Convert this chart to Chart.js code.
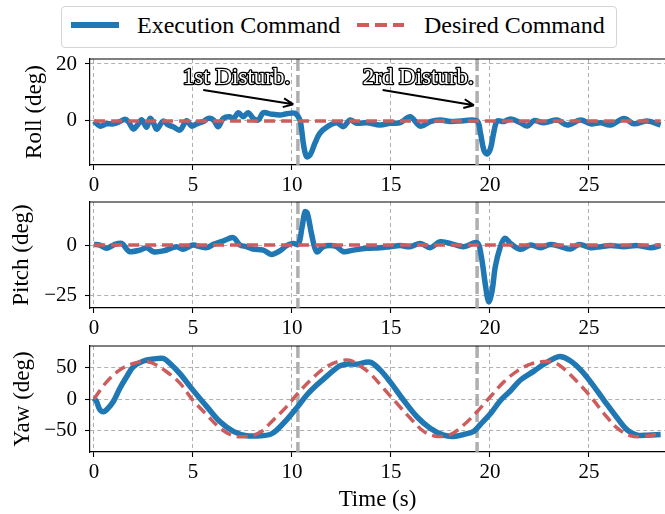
<!DOCTYPE html>
<html lang="en">
<head>
<meta charset="UTF-8">
<title>Disturbance response</title>
<script src="https://cdn.jsdelivr.net/npm/chart.js@4.4.0/dist/chart.umd.min.js"></script>
<style>
  body { margin: 0; background: #fff; width: 665px; height: 514px; overflow: hidden; position: relative; font-family: 'Liberation Serif', 'Times New Roman', serif; }
  canvas { position: absolute; left: 0; }
  #legend { position: absolute; left: 61px; top: 6px; width: 554px; height: 40px; border: 1px solid #d5d5d5; border-radius: 4px; background: #fff; }
  .item { position: absolute; top: -2px; height: 40px; line-height: 40px; font-size: 24px; color: #000; white-space: nowrap; }
  .swatch { position: absolute; }
</style>
</head>
<body>

<div id="legend">
  <div class="swatch" style="left:9px; top:15px; width:48px; height:5.5px; background:#1f77b4;"></div>
  <div class="item" style="left:75px;">Execution Command</div>
  <div class="swatch" style="left:295px; top:16px; width:47px; height:3.5px; background:repeating-linear-gradient(to right, #cd5c5c 0 12px, transparent 12px 18px);"></div>
  <div class="item" style="left:362px;">Desired Command</div>
</div>

<canvas id="rollChart" width="665" height="150" style="top:50px"></canvas>
<canvas id="pitchChart" width="665" height="145" style="top:195px"></canvas>
<canvas id="yawChart" width="665" height="176" style="top:338px"></canvas>

<script>
// ---- data ----
const xTicks = [0, 5, 10, 15, 20, 25];
const disturbTimes = [10.3, 19.35];

const rollTicks = [0, 20];
const pitchTicks = [-25, 0];
const yawTicks = [-50, 0, 50];

const rollT = [0, 0.3, 0.64, 0.98, 1.31, 1.57, 1.73, 1.99, 2.24, 2.41, 2.66, 2.83, 3.0, 3.17, 3.5, 3.75, 4.0, 4.34, 4.68, 4.93, 5.19, 5.52, 5.77, 6.03, 6.28, 6.53, 6.87, 7.03, 7.29, 7.54, 7.79, 8.05, 8.3, 8.55, 8.89, 9.39, 9.73, 10.15, 10.4, 10.49, 10.6, 10.74, 10.91, 11.16, 11.41, 11.83, 12.26, 12.6, 12.93, 13.27, 13.78, 14.45, 14.96, 15.47, 15.97, 16.48, 16.98, 17.49, 18.0, 18.67, 19.35, 19.52, 19.69, 19.86, 20.03, 20.2, 20.37, 20.7, 21.04, 21.54, 21.88, 22.22, 22.72, 23.4, 23.9, 24.58, 25.08, 25.59, 26.09, 26.77, 27.27, 27.94, 28.62];
const rollExec = [0, -1.8, -1, -1, -0.2, 0.6, -0.2, -2.8, -1, 0.4, -2.2, 0.9, -0.6, -2.9, 0, -1.4, -2, -3.2, 0.1, -1.8, -1, -0.2, 0.9, 0.4, -2, 0.9, 1.5, 0.6, 2.9, 1.5, 2.9, 0.9, 0.35, 2.9, 2.5, 2.1, 2.5, 2.7, 0.35, -3.2, -9, -12.5, -12, -7.8, -4.3, -1.8, -0.6, -2, 0.35, -0.8, -0.6, -1.4, -0.8, -0.6, 1.5, -1.8, -0.2, 0.35, -0.2, 0.1, 0, -4.3, -10.2, -11.6, -9.6, -3.7, 0, -0.2, 0.7, -0.6, -1.8, 0.1, -0.6, 0.35, -1.4, 0.35, -1, -0.6, -1.4, 0.9, -1, 0, -1.4];

const pitchT = [0, 0.3, 0.64, 0.98, 1.4, 1.65, 1.82, 2.32, 2.66, 3.0, 3.5, 4.17, 4.5, 5.0, 5.35, 5.7, 6.03, 6.54, 7.04, 7.37, 7.71, 8.04, 8.55, 8.97, 9.39, 9.73, 10.07, 10.32, 10.5, 10.66, 10.78, 11.0, 11.25, 11.58, 11.92, 12.26, 12.6, 13.1, 13.78, 14.45, 14.96, 15.47, 15.97, 16.48, 16.98, 17.49, 18.16, 18.67, 19.35, 19.55, 19.77, 19.93, 20.1, 20.27, 20.5, 20.75, 21.04, 21.54, 22.05, 22.55, 23.06, 23.56, 24.07, 24.5, 25.08, 25.59, 26.09, 26.77, 27.44, 28.11, 28.62];
const pitchExec = [0.3, 0, -1.6, 0, 0.8, -2, -3.3, -2.5, -1.3, -3.3, -2.9, -0.8, -2.1, 0, -0.8, -1.3, 0.3, 2, 3.6, 0, -0.8, -2, -2.5, -4.6, -2.9, -0.3, 0.8, 0.3, 8.2, 16.3, 15.5, 4.9, -3.3, -0.8, -0.3, -0.8, -3.3, -2.5, -1.6, -1.3, -0.8, -0.3, -0.8, 0.8, -1.3, 1.6, 0.3, -0.8, 1.1, -4.9, -19.6, -27.8, -22.9, -10.6, -1.6, 3.3, 0.8, -2.1, 0, -1.3, 0.3, -0.8, -2, 0.3, -1.3, -0.8, -0.3, -0.8, -0.3, -1.3, -0.3];

const flatT = [0, 28.62];
const flatDesired = [0, 0];

const yawT = [0, 0.13, 0.3, 0.47, 0.64, 0.98, 1.31, 1.65, 1.99, 2.5, 3.0, 3.5, 3.84, 4.34, 5.0, 5.7, 6.37, 7.04, 7.71, 8.38, 8.89, 9.23, 9.73, 10.24, 10.74, 11.25, 11.58, 12.1, 12.4, 12.8, 13.27, 13.95, 14.45, 14.96, 15.64, 16.31, 16.98, 17.66, 18.16, 18.67, 19.18, 19.52, 20.03, 20.54, 21.04, 21.54, 22.22, 22.72, 23.23, 23.56, 24.07, 24.58, 25.08, 25.76, 26.43, 26.94, 27.44, 27.94, 28.62];
const yawExec = [1, -4, -17, -20, -17, -4, 17, 35, 51, 60, 63, 64, 56, 40, 14, -12, -36, -51, -58, -58, -56, -49, -33, -14, 6, 22, 31, 45, 52, 55, 55, 58, 46, 27, -2, -28, -46, -57, -59, -56, -51, -40, -23, -2, 13, 30, 44, 55, 64, 67, 60, 46, 27, -2, -30, -49, -57, -57, -56];

const yawDesT = [0, 0.64, 1.31, 1.99, 2.6, 3.0, 3.67, 4.34, 5.0, 5.7, 6.37, 7.04, 7.71, 8.38, 9.06, 9.73, 10.24, 11.08, 11.75, 12.4, 12.9, 13.27, 13.95, 14.62, 15.3, 15.97, 16.65, 17.32, 18.0, 18.67, 19.35, 20.03, 20.7, 21.37, 22.05, 22.72, 23.23, 23.73, 24.41, 25.08, 25.76, 26.43, 27.1, 27.77, 28.62];
const yawDesired = [0, 27, 46, 56, 59, 56, 43, 25, -2, -25, -46, -58, -59, -53, -33, -12, 7, 34, 51, 60, 61, 56, 40, 17, -7, -30, -51, -59, -56, -41, -20, 4, 27, 44, 55, 59, 58, 48, 27, 4, -23, -46, -58, -59, -54];

// annotation placement (data coords of the roll panel)
const noteText = ['1st Disturb.', '2rd Disturb.'];
const noteX = [7.2, 16.38];
const noteY = [15.2, 15.2];
const arrowFromX = [5.52, 14.58];
const arrowFromY = [10.9, 10.9];
const arrowToX = [10.07, 19.19];
const arrowToY = [5.85, 5.5];

const serif = "'Liberation Serif', 'Times New Roman', serif";
const xMin = -0.2, xMax = 28.84;
const plotLeft = 90;

function pts(ts, vs) {
  return ts.map((t, i) => ({ x: t, y: vs[i] }));
}
function fmt(v) {
  return v < 0 ? '\u2212' + Math.abs(v) : String(v);
}

// gray disturbance markers + top frame line
const frame = {
  id: 'frame',
  beforeDatasetsDraw(chart) {
    const { ctx, chartArea: a, scales: { x } } = chart;
    ctx.save();
    ctx.strokeStyle = 'rgba(165,165,165,0.9)';
    ctx.lineWidth = 3.5;
    ctx.setLineDash([12, 4]);
    disturbTimes.forEach(t => {
      const px = x.getPixelForValue(t);
      ctx.beginPath();
      ctx.moveTo(px, a.top);
      ctx.lineTo(px, a.bottom);
      ctx.stroke();
    });
    ctx.restore();
  },
  afterDraw(chart) {
    const { ctx, chartArea: a } = chart;
    ctx.save();
    ctx.strokeStyle = '#000';
    ctx.lineWidth = 1.2;
    ctx.beginPath();
    ctx.moveTo(a.left, a.top);
    ctx.lineTo(a.right, a.top);
    ctx.stroke();
    ctx.restore();
  }
};

const notes = {
  id: 'notes',
  afterDatasetsDraw(chart) {
    const { ctx, scales: { x, y } } = chart;
    ctx.save();
    noteText.forEach((txt, i) => {
      const x0 = x.getPixelForValue(arrowFromX[i]), y0 = y.getPixelForValue(arrowFromY[i]);
      const x1 = x.getPixelForValue(arrowToX[i]), y1 = y.getPixelForValue(arrowToY[i]);
      const ang = Math.atan2(y1 - y0, x1 - x0);
      ctx.strokeStyle = '#000';
      ctx.lineWidth = 2;
      ctx.setLineDash([]);
      ctx.beginPath();
      ctx.moveTo(x0, y0);
      ctx.lineTo(x1, y1);
      [-0.42, 0.42].forEach(d => {
        ctx.moveTo(x1, y1);
        ctx.lineTo(x1 - 11 * Math.cos(ang + d), y1 - 11 * Math.sin(ang + d));
      });
      ctx.stroke();

      ctx.font = '23px ' + serif;
      ctx.textAlign = 'center';
      ctx.textBaseline = 'middle';
      ctx.lineJoin = 'round';
      ctx.lineWidth = 2.6;
      const tx = x.getPixelForValue(noteX[i]), ty = y.getPixelForValue(noteY[i]);
      ctx.strokeText(txt, tx, ty);
      ctx.fillStyle = '#fff';
      ctx.fillText(txt, tx, ty);
    });
    ctx.restore();
  }
};

function makePanel(id, o) {
  return new Chart(document.getElementById(id), {
    type: 'line',
    data: {
      datasets: [
        { label: 'Execution Command', data: o.exec, borderColor: '#1f77b4', borderWidth: 5.5,
          pointRadius: 0, tension: 0.35, order: 2 },
        { label: 'Desired Command', data: o.desired, borderColor: '#cd5c5c', borderWidth: 3.5,
          borderDash: [11, 6], pointRadius: 0, tension: 0.35, order: 1 }
      ]
    },
    options: {
      responsive: false,
      animation: false,
      events: [],
      layout: { padding: { left: o.padLeft, top: o.padTop, right: 0, bottom: 0 } },
      plugins: { legend: { display: false }, tooltip: { enabled: false } },
      scales: {
        x: {
          type: 'linear', min: xMin, max: xMax,
          afterBuildTicks: s => { s.ticks = xTicks.map(v => ({ value: v })); },
          afterFit: s => { s.height = o.xh; s.paddingLeft = 0; s.paddingRight = 0; },
          grid: { color: '#b0b0b0', lineWidth: 1, drawTicks: true, tickLength: 5, tickColor: '#000', tickWidth: 1.1 },
          border: { display: true, color: '#000', width: 1.2, dash: [4, 3] },
          ticks: { autoSkip: false, maxRotation: 0, padding: 3, color: '#000',
                   font: { family: serif, size: 21 }, callback: v => fmt(v) },
          title: { display: !!o.xTitle, text: o.xTitle || '', color: '#000',
                   font: { family: serif, size: 23 }, padding: 0 }
        },
        y: {
          type: 'linear', min: o.yMin, max: o.yMax,
          afterBuildTicks: s => { s.ticks = o.yTicks.map(v => ({ value: v })); },
          afterFit: s => { s.width = plotLeft - o.padLeft; s.paddingTop = 0; s.paddingBottom = 0; },
          grid: { color: '#b0b0b0', lineWidth: 1, drawTicks: true, tickLength: 5, tickColor: '#000', tickWidth: 1.1 },
          border: { display: true, color: '#000', width: 1.2, dash: [4, 3] },
          ticks: { padding: 8, color: '#000', font: { family: serif, size: 21 }, callback: v => fmt(v) },
          title: { display: true, text: o.yTitle, color: '#000',
                   font: { family: serif, size: 23 }, padding: 0 }
        }
      }
    },
    plugins: o.plugins
  });
}

makePanel('rollChart', {
  exec: pts(rollT, rollExec), desired: pts(flatT, flatDesired),
  yMin: -15.45, yMax: 21.75, yTicks: rollTicks, yTitle: 'Roll (deg)',
  padLeft: 21, padTop: 9, xh: 35, plugins: [frame, notes]
});
makePanel('pitchChart', {
  exec: pts(pitchT, pitchExec), desired: pts(flatT, flatDesired),
  yMin: -30.9, yMax: 21.1, yTicks: pitchTicks, yTitle: 'Pitch (deg)',
  padLeft: 8, padTop: 7, xh: 32, plugins: [frame]
});
makePanel('yawChart', {
  exec: pts(yawT, yawExec), desired: pts(yawDesT, yawDesired),
  yMin: -83.6, yMax: 83.6, yTicks: yawTicks, yTitle: 'Yaw (deg)', xTitle: 'Time (s)',
  padLeft: 9, padTop: 8, xh: 62, plugins: [frame]
});
</script>
</body>
</html>
